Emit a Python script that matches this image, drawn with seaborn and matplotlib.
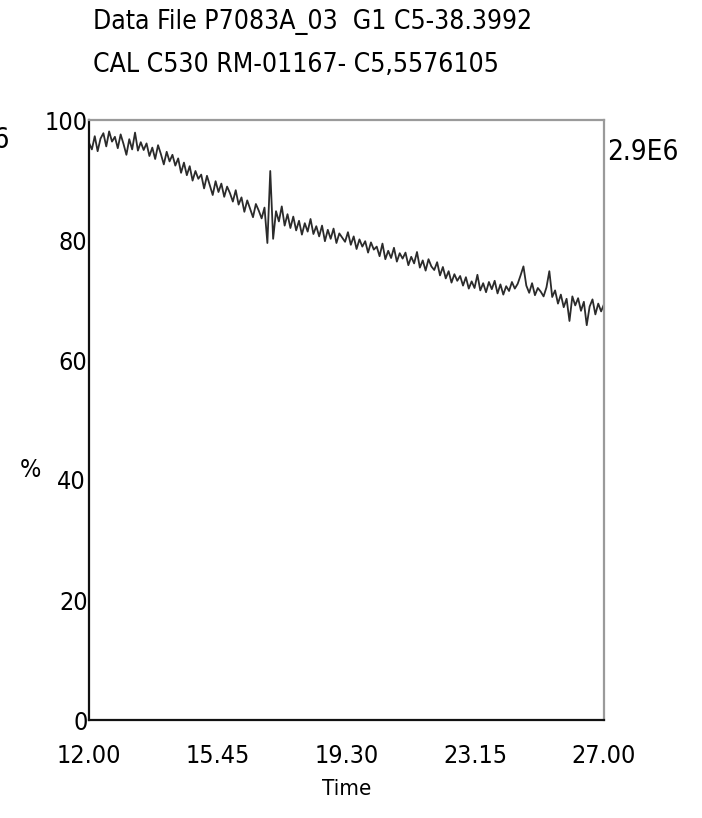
import numpy as np
import pandas as pd
import matplotlib
matplotlib.use("Agg")
import matplotlib.pyplot as plt
import seaborn as sns

title_line1 = "Data File P7083A_03  G1 C5-38.3992"
title_line2 = "CAL C530 RM-01167- C5,5576105"
right_label = "2.9E6"
x_ticks = [12.00, 15.75, 19.50, 23.25, 27.00]
x_tick_labels = ["12.00", "15.45", "19.30", "23.15", "27.00"]
y_ticks = [0, 20, 40, 60, 80, 100]
y_tick_labels = ["0", "20", "", "60", "80", "100"]
t_start, t_end = 12.0, 27.0
percent = [
    96.2, 95.1, 97.3, 94.8, 96.9, 97.8, 95.6, 98.1, 96.4, 97.2,
    95.3, 97.6, 96.0, 94.2, 96.8, 95.1, 97.9, 94.9, 96.3, 95.0,
    96.1, 94.0, 95.4, 93.5, 95.8, 94.3, 92.6, 94.7, 93.1, 94.2,
    92.4, 93.6, 91.2, 92.9, 90.8, 92.3, 89.9, 91.5, 90.2, 90.9,
    88.6, 90.7, 89.1, 87.5, 89.8, 88.0, 89.4, 87.2, 88.9, 87.8,
    86.4, 88.3, 85.9, 87.1, 84.7, 86.6, 85.2, 83.8, 86.0, 84.9,
    83.6, 85.4, 79.5, 91.5, 80.2, 84.8, 83.1, 85.6, 82.4, 84.3,
    82.0, 83.9, 81.6, 83.2, 80.9, 82.8, 81.4, 83.5, 81.0, 82.3,
    80.6, 82.4, 79.8, 81.7, 80.2, 81.9, 79.5, 81.1, 80.4, 79.7,
    81.3, 79.2, 80.6, 78.5, 80.1, 78.9, 79.8, 77.9, 79.6, 78.4,
    78.9, 77.3, 79.4, 76.8, 78.2, 77.0, 78.7, 76.4, 77.8, 76.9,
    77.9, 75.8, 77.2, 76.1, 78.0, 75.4, 76.6, 74.9, 76.8, 75.6,
    75.0, 76.3, 74.1, 75.5, 73.6, 74.8, 72.9, 74.3, 73.2, 74.0,
    72.4, 73.8, 71.9, 73.1, 72.0, 74.2, 71.6, 72.8, 71.3, 73.0,
    71.8, 73.2, 71.1, 72.6, 70.9, 72.3, 71.5, 73.0, 71.9, 72.7,
    74.1, 75.6, 72.4, 71.2, 72.8, 70.8, 72.0, 71.4, 70.6, 72.1,
    74.8, 70.5, 71.6, 69.4, 70.9, 68.8, 70.2, 66.5, 70.6, 69.1,
    70.3, 68.2, 69.7, 65.8, 68.9, 70.1, 67.6, 69.4, 68.1, 69.3,
]

time = np.linspace(t_start, t_end, len(percent))
df = pd.DataFrame({"Time": time, "%": percent})

sns.set_style("white")
plt.rcParams["font.family"] = ["DejaVu Sans"]
plt.rcParams["font.stretch"] = "condensed"
plt.rcParams["text.color"] = "black"
plt.rcParams["xtick.color"] = "black"
plt.rcParams["ytick.color"] = "black"
plt.rcParams["axes.labelcolor"] = "black"

W, H = 702, 818
fig = plt.figure(figsize=(W / 100, H / 100), dpi=100)
ax = fig.add_axes([89 / W, (H - 720) / H, (604 - 89) / W, 600 / H])

sns.lineplot(data=df, x="Time", y="%", ax=ax, color="#2b2b2b", lw=1.3)

ax.set_xlim(t_start, t_end)
ax.set_ylim(0, 100)
ax.set_xticks(x_ticks)
ax.set_xticklabels(x_tick_labels, fontsize=18, fontstretch="condensed")
ax.set_yticks(y_ticks)
ax.set_yticklabels(y_tick_labels, fontsize=18, fontstretch="condensed")
ax.tick_params(axis="y", length=0, pad=1)
ax.tick_params(axis="x", length=0, pad=17)
ax.set_xlabel("Time", fontsize=16, labelpad=8, fontstretch="condensed")
ax.set_ylabel("")

for side in ["left", "bottom"]:
    ax.spines[side].set_color("#111111")
    ax.spines[side].set_linewidth(1.6)
for side in ["top", "right"]:
    ax.spines[side].set_color("#9a9a9a")
    ax.spines[side].set_linewidth(1.6)

fig.text(93 / W, 1 - 22 / H, title_line1, fontsize=19, ha="left", va="center", fontstretch="condensed")
fig.text(93 / W, 1 - 65 / H, title_line2, fontsize=19, ha="left", va="center", fontstretch="condensed")
fig.text(607 / W, 1 - 152 / H, right_label, fontsize=20, ha="left", va="center", fontstretch="condensed")
fig.text(10 / W, 1 - 140 / H, right_label, fontsize=20, ha="right", va="center", fontstretch="condensed")
fig.text(30 / W, 1 - 470 / H, "%", fontsize=18, ha="center", va="center", fontstretch="condensed")
fig.text(86 / W, 1 - 482 / H, "40", fontsize=18, ha="right", va="center", fontstretch="condensed")

fig.savefig("out.png", dpi=100)
